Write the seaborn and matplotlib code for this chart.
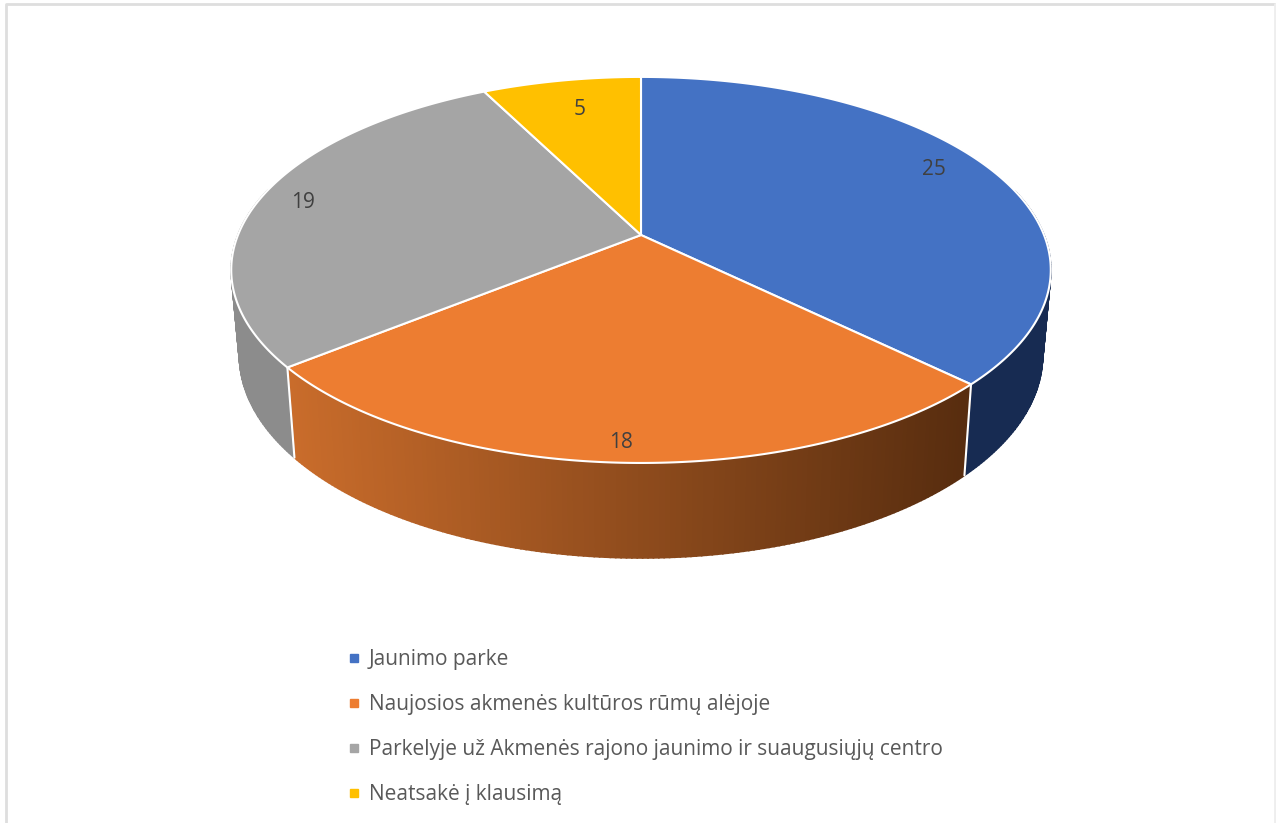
import numpy as np
import matplotlib
matplotlib.use("Agg")
import matplotlib.pyplot as plt
from matplotlib.lines import Line2D
from matplotlib.colors import to_rgb
import seaborn as sns

# Duomenys
kategorijos = [
    "Jaunimo parke",
    "Naujosios akmenės kultūros rūmų alėjoje",
    "Parkelyje už Akmenės rajono jaunimo ir suaugusiųjų centro",
    "Neatsakė į klausimą",
]
reiksmes = [25, 18, 19, 5]
spalvos = ["#4472C4", "#ED7D31", "#A5A5A5", "#FFC000"]

# sides of the disc: colour at the left end and at the right end of each wall
sonu_kaire = ["#172B52", "#C96C2B", "#8C8C8C", "#997300"]
sonu_desine = ["#172B52", "#582D0F", "#808080", "#997300"]

# where the value labels sit: (u, v) in the unit disc
etikeciu_vietos = [(0.776, 0.375), (-0.041, -0.925), (-0.866, 0.18), (-0.172, 0.765)]

sns.set_theme(style="white")
plt.rcParams["font.family"] = ["Open Sans", "DejaVu Sans"]

# perspective of the tilted disc, fitted on the picture
CX, CY = 641, 235
A, B, K = 403, 186.7, 0.181
GYLIS, MAZEJIMAS, TEMPIMAS = 83.6, 0.98, 1.05


def virsus(u, v):
    d = 1 + K * v
    return CX + A * u / d, CY - B * v / d


def apacia(u, v):
    d = 1 + K * v
    return CX + MAZEJIMAS * A * u / d, CY + GYLIS + TEMPIMAS * (-B * v / d)


def lankas(a0, a1, n=200):
    t = np.linspace(a0, a1, n)
    return np.sin(t), np.cos(t)


fig, ax = plt.subplots(figsize=(12.76, 8.23), dpi=100)
fig.subplots_adjust(0, 0, 1, 1)
ax.set_xlim(0, 1276)
ax.set_ylim(823, 0)
ax.set_axis_off()

ribos = np.cumsum([0] + reiksmes) / sum(reiksmes) * 2 * np.pi
paleta = sns.color_palette(spalvos)

# side walls first
for i in range(len(reiksmes)):
    a0, a1 = ribos[i], ribos[i + 1]
    n = int((a1 - a0) * 90)
    kampai = np.linspace(a0, a1, n + 1)
    for j in range(n):
        k0, k1 = kampai[j], kampai[j + 1]
        if np.cos((k0 + k1) / 2) > 0.25:
            continue
        u, v = lankas(k0, k1, 2)
        xt, yt = virsus(u, v)
        xb, yb = apacia(u, v)
        f = np.clip((xt.mean() - 290) / (965 - 290), 0, 1)
        c = (1 - f) * np.array(to_rgb(sonu_kaire[i])) + f * np.array(to_rgb(sonu_desine[i]))
        ax.fill(np.r_[xt, xb[::-1]], np.r_[yt, yb[::-1]], color=c, lw=1.2, zorder=2)

# white seams between the walls, only on the front
for a in ribos:
    u, v = np.sin(a), np.cos(a)
    if v < 0:
        xt, yt = virsus(u, v)
        xb, yb = apacia(u, v)
        ax.plot([xt, xb], [yt, yb], color="white", lw=1.5, zorder=3)

# top of the pie
for i in range(len(reiksmes)):
    u, v = lankas(ribos[i], ribos[i + 1])
    x, y = virsus(u, v)
    ax.fill(np.r_[CX, x], np.r_[CY, y], facecolor=paleta[i], edgecolor="white",
            lw=1.5, joinstyle="round", zorder=4)

# value labels
for r, (u, v) in zip(reiksmes, etikeciu_vietos):
    x, y = virsus(u, v)
    ax.text(x, y, str(r), ha="center", va="center", fontsize=15, color="#404040", zorder=5)

# legend
rankenos = [Line2D([], [], marker="s", ls="", ms=5.2, color=c) for c in spalvos]
ax.legend(rankenos, kategorijos, loc="upper left", bbox_to_anchor=(337 / 1276, 1 - 649 / 823),
          frameon=False, fontsize=15, labelcolor="#595959", labelspacing=1.15,
          handletextpad=-0.07, borderpad=0, borderaxespad=0, handlelength=1.6)

# chart border
ax.plot([1275, 6, 6], [4, 4, 823], color="#DEDEDE", lw=2, zorder=1)
ax.plot([1275, 1275], [4, 823], color="#EEEEEE", lw=2, zorder=1)

fig.savefig("out.png", dpi=100)
